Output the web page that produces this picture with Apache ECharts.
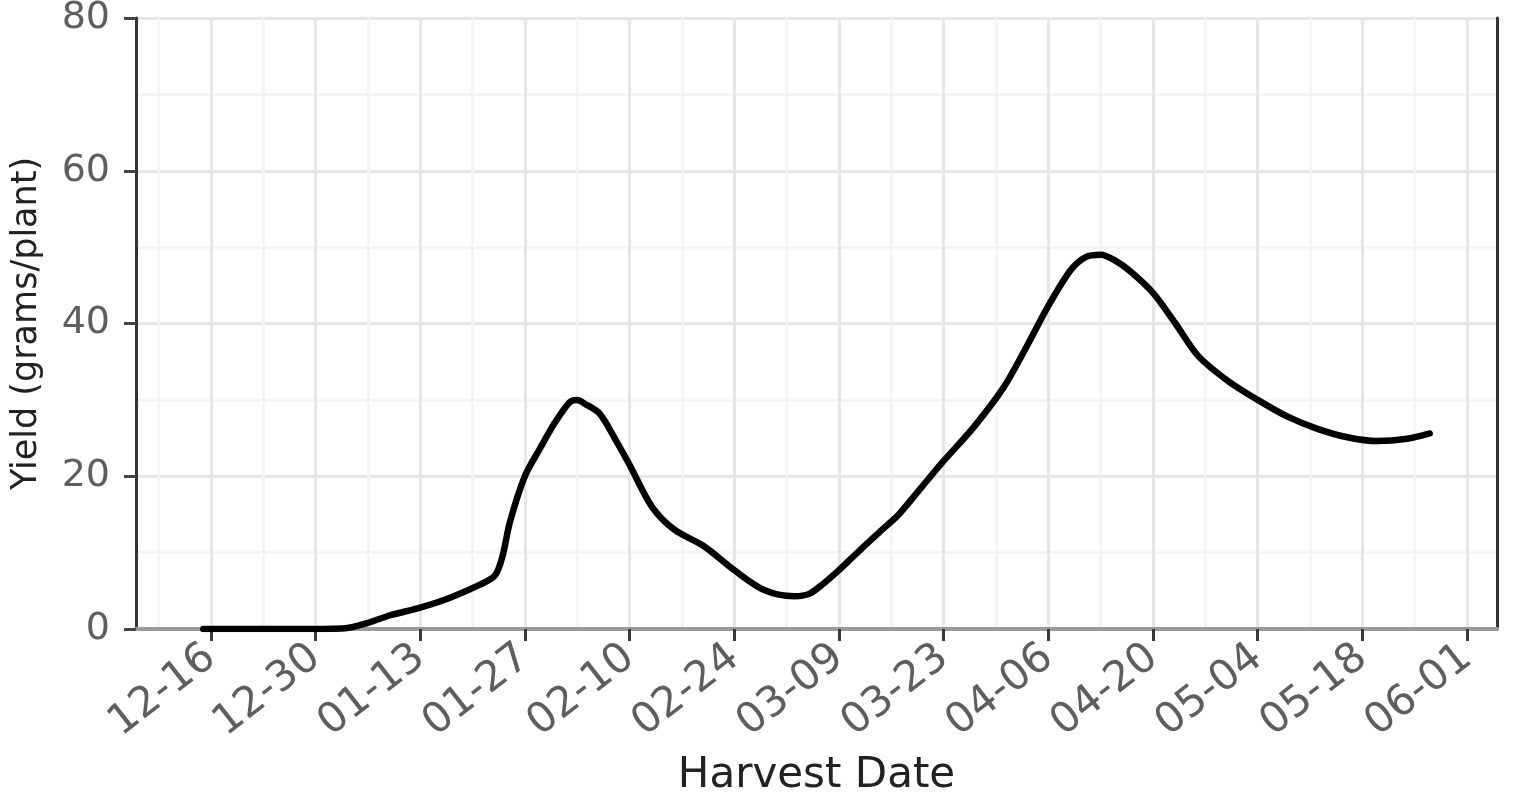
<!DOCTYPE html>
<html>
<head>
<meta charset="utf-8">
<script src="https://cdn.jsdelivr.net/npm/echarts@6/dist/echarts.min.js"></script>
<style>
  html, body { margin: 0; padding: 0; background: #ffffff; }
  #chart { width: 1518px; height: 794px; }
</style>
</head>
<body>
<div id="chart"></div>
<script>
// ---- data ----
const axisStartDate = '2019-12-06';
const axisEndDate = '2020-06-05';
const majorTickLabels = ['12-16','12-30','01-13','01-27','02-10','02-24','03-09','03-23','04-06','04-20','05-04','05-18','06-01'];
const yTickMin = 0, yTickMax = 80, yTickStep = 20;

const harvestDates = ['2019-12-15','2019-12-28','2020-01-03','2020-01-06','2020-01-09','2020-01-13','2020-01-17','2020-01-21','2020-01-23','2020-01-24','2020-01-25','2020-01-27','2020-01-29','2020-01-31',
  '2020-02-02','2020-02-03','2020-02-04','2020-02-06','2020-02-08','2020-02-10','2020-02-13','2020-02-16','2020-02-20','2020-02-24','2020-02-28',
  '2020-03-03','2020-03-05','2020-03-07','2020-03-09','2020-03-12','2020-03-15','2020-03-17','2020-03-20','2020-03-23','2020-03-27','2020-03-31',
  '2020-04-03','2020-04-06','2020-04-09','2020-04-11','2020-04-13','2020-04-15','2020-04-17','2020-04-20','2020-04-23','2020-04-26','2020-04-30',
  '2020-05-04','2020-05-08','2020-05-12','2020-05-16','2020-05-20','2020-05-24','2020-05-27'];
const yieldValues = [0,0,0.1,0.8,1.8,2.8,4.1,5.8,7.0,9.5,14,20,23.6,27,
  29.7,30,29.5,28.2,25,21.5,16,13,10.8,7.7,5.1,
  4.3,4.6,6,7.7,10.5,13.2,15,18.5,22,26.4,31.6,
  36.8,42.3,47,48.7,49,48.2,46.8,44,40,35.8,32.5,
  30,27.8,26.2,25.1,24.6,24.9,25.6];

// ---- build daily category axis ----
function iso(d) { return d.toISOString().slice(0, 10); }
const dayCategories = [];
for (let d = new Date(axisStartDate + 'T00:00:00Z'); iso(d) <= axisEndDate; d.setUTCDate(d.getUTCDate() + 1)) {
  dayCategories.push(iso(d));
}
const majorIdx = new Set(dayCategories.map((c, i) => majorTickLabels.includes(c.slice(5)) ? i : -1).filter(i => i >= 0));
const firstMajor = Math.min(...majorIdx);
const isMajor = (i) => majorIdx.has(i);
const isMinor = (i) => !majorIdx.has(i) && ((i - firstMajor) % 7 + 7) % 7 === 0 && i > 0 && i < dayCategories.length - 1;

const seriesData = harvestDates.map((d, i) => [d, yieldValues[i]]);

const FONT = 'DejaVu Sans';
const chart = echarts.init(document.getElementById('chart'), null, { renderer: 'canvas' });
chart.setOption({
  animation: false,
  backgroundColor: '#ffffff',
  grid: { left: 136, right: 21, top: 18, bottom: 165, containLabel: false, outerBoundsMode: 'none' },
  xAxis: [
    {
      type: 'category', data: dayCategories, boundaryGap: false, position: 'bottom',
      axisLine: { show: true, lineStyle: { color: '#858585', width: 4 } },
      axisTick: { show: true, interval: (i) => isMajor(i), length: 12, lineStyle: { color: '#3a3a3a', width: 3 } },
      axisLabel: {
        interval: (i) => isMajor(i), rotate: 38, margin: 24,
        formatter: (v) => v.slice(5),
        color: '#5e5e5e', fontFamily: FONT, fontSize: 42
      },
      splitLine: { show: true, interval: (i) => isMajor(i), lineStyle: { color: '#e6e6e6', width: 3 } },
      name: 'Harvest Date', nameLocation: 'middle', nameGap: 126,
      nameTextStyle: { color: '#222222', fontFamily: FONT, fontSize: 42 }
    },
    {
      type: 'category', data: dayCategories, boundaryGap: false, position: 'top',
      axisLine: { show: true, lineStyle: { color: '#9a9a9a', width: 4 } },
      axisTick: { show: false }, axisLabel: { show: false },
      splitLine: { show: true, interval: (i) => isMinor(i), lineStyle: { color: '#f3f3f3', width: 2.5 } }
    }
  ],
  yAxis: [
    {
      type: 'value', min: yTickMin, max: yTickMax, interval: yTickStep, position: 'left',
      axisLine: { show: true, lineStyle: { color: '#333333', width: 3 } },
      axisTick: { show: true, length: 12, lineStyle: { color: '#444444', width: 3 } },
      axisLabel: { margin: 26, color: '#5e5e5e', fontFamily: FONT, fontSize: 38 },
      splitLine: { show: true, lineStyle: { color: '#e6e6e6', width: 3 } },
      minorTick: { show: false, splitNumber: 2 },
      minorSplitLine: { show: true, lineStyle: { color: '#f3f3f3', width: 2.5 } },
      name: 'Yield (grams/plant)', nameLocation: 'middle', nameGap: 92,
      nameTextStyle: { color: '#222222', fontFamily: FONT, fontSize: 35 }
    },
    {
      type: 'value', min: yTickMin, max: yTickMax, interval: yTickStep, position: 'right',
      axisLine: { show: true, lineStyle: { color: '#333333', width: 3 } },
      axisTick: { show: false }, axisLabel: { show: false }, splitLine: { show: false }
    }
  ],
  series: [{
    type: 'line', xAxisIndex: 0, yAxisIndex: 0,
    data: seriesData, smooth: 0.3, symbol: 'none',
    lineStyle: { color: '#000000', width: 6.5, cap: 'round', join: 'round' },
    z: 5
  }]
});
</script>
</body>
</html>
